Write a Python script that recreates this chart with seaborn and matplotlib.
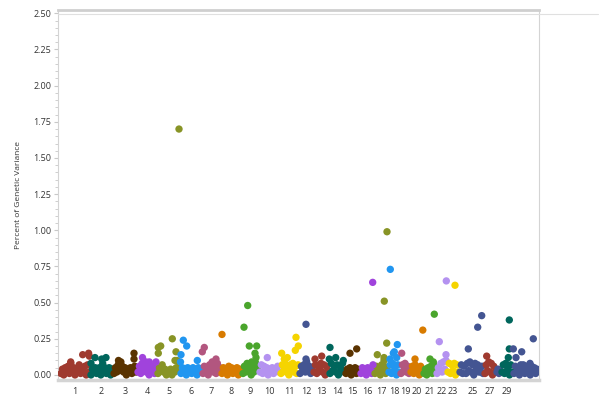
import numpy as np
import pandas as pd
import matplotlib
matplotlib.use("Agg")
import matplotlib.pyplot as plt
from matplotlib.lines import Line2D
from matplotlib.ticker import MultipleLocator, FormatStrFormatter
import seaborn as sns

# ---- chromosome layout -------------------------------------------------
chromosomes = list(range(1, 31))
chrom_lengths = [30, 23, 24, 20, 23, 22, 19, 21, 17, 21, 19, 14, 16, 16, 15,
                 14, 14, 12, 10, 13, 13, 11, 12, 6, 15, 4, 12, 5, 12, 25]
tick_labels = [str(c) for c in range(1, 24)] + ["", "25", "", "27", "", "29", ""]

RED, TEAL, BROWN, PURPLE = "#9f3a2f", "#00665c", "#5a3300", "#a043dc"
OLIVE, BLUE, MAUVE, ORANGE = "#889426", "#2196f0", "#b2567f", "#d87b00"
GREEN, LAVENDER, YELLOW, SLATE = "#4aa52c", "#b492f0", "#f5d400", "#445592"
chrom_colors = [RED, TEAL, BROWN, PURPLE, OLIVE, BLUE, MAUVE, ORANGE, GREEN,
                LAVENDER, YELLOW, SLATE, RED, TEAL, BROWN, PURPLE, OLIVE, BLUE,
                MAUVE, ORANGE, GREEN, LAVENDER, YELLOW, SLATE, SLATE, SLATE,
                RED, SLATE, TEAL, SLATE]

# ---- background markers (percent of genetic variance), per chromosome ---
background = {
    1: [0.01, 0.04, 0.00, 0.05, 0.02, 0.06, 0.01, 0.08, 0.03, 0.05, 0.00,
        0.04, 0.02, 0.07, 0.01, 0.05, 0.03, 0.06, 0.00, 0.07, 0.02],
    2: [0.00, 0.04, 0.02, 0.05, 0.01, 0.03, 0.05, 0.00, 0.04, 0.02, 0.05,
        0.01, 0.03, 0.05, 0.00, 0.04],
    3: [0.01, 0.05, 0.02, 0.07, 0.03, 0.09, 0.06, 0.02, 0.05, 0.00, 0.04,
        0.02, 0.05, 0.01, 0.04, 0.06, 0.02],
    4: [0.02, 0.06, 0.01, 0.08, 0.04, 0.06, 0.02, 0.05, 0.00, 0.04, 0.02,
        0.06, 0.01, 0.05],
    5: [0.01, 0.05, 0.03, 0.07, 0.02, 0.04, 0.00, 0.03, 0.01, 0.04, 0.00,
        0.03, 0.02, 0.05, 0.03, 0.06],
    6: [0.01, 0.05, 0.02, 0.04, 0.00, 0.05, 0.03, 0.04, 0.01, 0.05, 0.02,
        0.04, 0.00, 0.05, 0.02, 0.04],
    7: [0.01, 0.06, 0.02, 0.05, 0.00, 0.07, 0.03, 0.09, 0.02, 0.06, 0.01,
        0.08, 0.03, 0.05],
    8: [0.01, 0.05, 0.02, 0.04, 0.00, 0.06, 0.02, 0.05, 0.01, 0.04, 0.03,
        0.05, 0.00, 0.04, 0.02],
    9: [0.01, 0.06, 0.02, 0.08, 0.03, 0.05, 0.00, 0.07, 0.02, 0.09, 0.04, 0.06],
    10: [0.02, 0.07, 0.01, 0.06, 0.03, 0.05, 0.00, 0.04, 0.02, 0.05, 0.01,
         0.04, 0.03, 0.06, 0.02],
    11: [0.01, 0.07, 0.03, 0.08, 0.02, 0.06, 0.00, 0.07, 0.04, 0.08, 0.02,
         0.06, 0.01, 0.07],
    12: [0.01, 0.06, 0.03, 0.07, 0.02, 0.09, 0.04, 0.06, 0.01, 0.05],
    13: [0.02, 0.07, 0.01, 0.06, 0.04, 0.08, 0.02, 0.07, 0.00, 0.06, 0.03],
    14: [0.01, 0.08, 0.03, 0.06, 0.02, 0.07, 0.00, 0.06, 0.04, 0.08, 0.02],
    15: [0.01, 0.04, 0.02, 0.05, 0.00, 0.04, 0.02, 0.05, 0.01, 0.04, 0.02],
    16: [0.01, 0.05, 0.02, 0.04, 0.00, 0.05, 0.02, 0.04, 0.01, 0.05],
    17: [0.01, 0.06, 0.02, 0.05, 0.00, 0.07, 0.03, 0.06, 0.01, 0.05],
    18: [0.02, 0.07, 0.01, 0.08, 0.03, 0.06, 0.00, 0.07, 0.02],
    19: [0.01, 0.07, 0.03, 0.08, 0.02, 0.06, 0.01],
    20: [0.02, 0.06, 0.01, 0.07, 0.03, 0.05, 0.00, 0.06, 0.02],
    21: [0.01, 0.04, 0.00, 0.05, 0.02, 0.06, 0.01, 0.07, 0.03],
    22: [0.01, 0.05, 0.03, 0.08, 0.02, 0.09, 0.04, 0.10],
    23: [0.02, 0.08, 0.01, 0.07, 0.03, 0.08, 0.00, 0.07, 0.02],
    24: [0.02, 0.07, 0.01, 0.06],
    25: [0.01, 0.08, 0.03, 0.09, 0.02, 0.07, 0.00, 0.08, 0.04, 0.07, 0.02],
    26: [0.02, 0.06, 0.01],
    27: [0.01, 0.07, 0.03, 0.09, 0.02, 0.08, 0.00, 0.06, 0.02],
    28: [0.02, 0.04, 0.01, 0.03],
    29: [0.02, 0.07, 0.01, 0.08, 0.03, 0.06, 0.00, 0.07, 0.02],
    30: [0.01, 0.06, 0.02, 0.05, 0.00, 0.07, 0.03, 0.05, 0.01, 0.06, 0.02,
         0.04, 0.00, 0.06, 0.03, 0.05, 0.01, 0.04],
}

# ---- windows explaining more variance: chromosome, offset, percent -------
peak_chrom = [1, 1, 1, 1,
              2, 2, 2, 2, 2,
              3, 3, 3,
              4, 4, 4, 4,
              5, 5, 5, 5, 5, 5, 5, 5,
              6, 6, 6, 6, 6,
              7, 7, 7,
              8,
              9, 9, 9, 9, 9, 9, 9,
              10,
              11, 11, 11, 11, 11, 11,
              12, 12, 12,
              13, 13,
              14, 14, 14, 14,
              15, 15,
              16, 16,
              17, 17, 17, 17, 17, 17,
              18, 18, 18, 18, 18, 18,
              19,
              20, 20,
              21, 21, 21,
              22, 22, 22,
              23,
              25, 25, 26,
              27,
              29, 29, 29,
              30, 30, 30, 30, 30, 30]
peak_offset = [10.7, 22.7, 28.6, 29.3,
               1.0, 5.0, 11.7, 16.0, 12.7,
               21.0, 21.0, 5.5,
               5.5, 9.0, 12.3, 19.0,
               1.3, 3.7, 1.3, 15.3, 19.0, 20.0, 18.0, 22.0,
               3.3, 6.7, 1.0, 0.5, 17.3,
               0.3, 2.3, 14.0,
               1.0,
               2.0, 5.7, 7.3, 14.7, 13.0, 14.0, 9.7,
               8.3,
               1.7, 7.3, 4.3, 16.0, 18.3, 15.3,
               7.0, 7.0, 7.3,
               2.0, 8.7,
               1.0, 0.3, 6.7, 14.3,
               5.0, 11.7,
               12.7, 13.0,
               13.0, 10.3, 12.7, 3.3, 10.0, 10.0,
               2.3, 9.3, 6.3, 5.3, 8.7, 2.0,
               1.7,
               12.8, 5.0,
               11.3, 7.0, 10.3,
               10.3, 3.3, 10.0,
               8.0,
               3.3, 12.7, 1.7,
               2.7,
               8.3, 8.3, 7.3,
               0.3, 8.7, 3.0, 20.3, 17.0, 10.3]
peak_pct = [0.09, 0.14, 0.15, 0.13,
            0.08, 0.12, 0.11, 0.12, 0.08,
            0.15, 0.11, 0.10,
            0.12, 0.09, 0.09, 0.09,
            0.19, 0.20, 0.15, 0.25, 0.16, 0.10, 0.10, 1.70,
            0.24, 0.20, 0.14, 0.09, 0.10,
            0.16, 0.19, 0.11,
            0.28,
            0.33, 0.48, 0.20, 0.20, 0.15, 0.12, 0.09,
            0.12,
            0.15, 0.12, 0.11, 0.26, 0.20, 0.17,
            0.35, 0.11, 0.09,
            0.11, 0.13,
            0.19, 0.11, 0.12, 0.10,
            0.15, 0.18,
            0.64, 0.07,
            0.99, 0.51, 0.22, 0.14, 0.12, 0.10,
            0.73, 0.21, 0.16, 0.15, 0.12, 0.11,
            0.15,
            0.31, 0.11,
            0.42, 0.11, 0.09,
            0.65, 0.23, 0.14,
            0.62,
            0.18, 0.33, 0.41,
            0.13,
            0.38, 0.18, 0.12,
            0.18, 0.16, 0.12, 0.25, 0.08, 0.07]

# ---- assemble one table of markers on a cumulative genome axis ----------
starts = np.concatenate([[0], np.cumsum(chrom_lengths)[:-1]])
centers = starts + np.array(chrom_lengths) / 2.0
start_of = dict(zip(chromosomes, starts))
len_of = dict(zip(chromosomes, chrom_lengths))

rows = []
for c in chromosomes:
    vals = background[c]
    pos = np.linspace(start_of[c] + 1.0, start_of[c] + len_of[c] - 1.0, len(vals))
    rows += [(c, p, v) for p, v in zip(pos, vals)]
for c, off, v in zip(peak_chrom, peak_offset, peak_pct):
    rows.append((c, start_of[c] + off, v))
df = pd.DataFrame(rows, columns=["chrom", "position", "pct"])

# ---- figure --------------------------------------------------------------
sns.set_theme(style="white")
plt.rcParams["font.family"] = ["Open Sans", "DejaVu Sans"]

fig = plt.figure(figsize=(6.0, 3.96), dpi=100)
ax = fig.add_axes([58 / 600, 16 / 396, 481 / 600, 370 / 396])

palette = dict(zip(chromosomes, chrom_colors))
sns.scatterplot(data=df, x="position", y="pct", hue="chrom", palette=palette,
                s=28, linewidth=0, alpha=1.0, legend=False, ax=ax, zorder=3)

ax.set_xlim(-2, 479)
ax.set_ylim(-0.035, 2.523)

ax.set_xticks(centers)
ax.set_xticklabels(tick_labels)
ax.yaxis.set_major_locator(MultipleLocator(0.25))
ax.yaxis.set_minor_locator(MultipleLocator(0.05))
ax.yaxis.set_major_formatter(FormatStrFormatter("%.2f"))

ax.tick_params(axis="x", length=0, pad=5, labelsize=6.5, colors="#333333")
ax.tick_params(axis="y", which="major", length=3, width=0.8, color="#c8c8c8",
               pad=1.8, labelsize=6.5, labelcolor="#333333", left=True)
ax.tick_params(axis="y", which="minor", length=2, width=0.6, color="#c8c8c8",
               left=True)

ax.set_xlabel("")
ax.set_ylabel("Percent of Genetic Variance", fontsize=6.0, color="#333333")
ax.yaxis.set_label_coords(-0.075, 0.5)

for side, lw, col in [("left", 0.8, "#d4d4d4"), ("right", 0.8, "#d4d4d4"),
                      ("top", 2.0, "#cfcfcf"), ("bottom", 2.5, "#d4d4d4")]:
    ax.spines[side].set_visible(True)
    ax.spines[side].set_linewidth(lw)
    ax.spines[side].set_color(col)

fig.add_artist(Line2D([58 / 600, 598 / 600], [1 - 14 / 396, 1 - 14 / 396],
                      transform=fig.transFigure, color="#e0e0e0", lw=0.8))

fig.savefig("out.png", dpi=100, facecolor="white")
